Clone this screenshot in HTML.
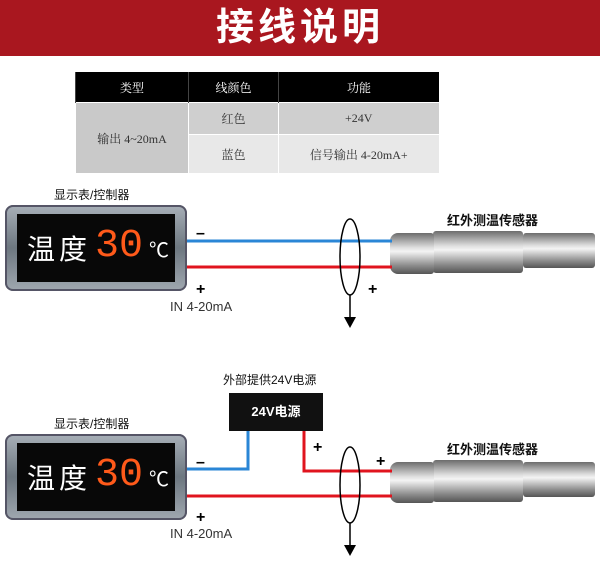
<!DOCTYPE html>
<html><head><meta charset="utf-8"><style>
body{margin:0;width:600px;height:563px;background:#fff;position:relative;overflow:hidden;font-family:"Liberation Sans","Noto Sans CJK SC",sans-serif}
.a{position:absolute}
.hdr{left:0;top:0;width:600px;height:56px;background:#a9171f;color:#fff;font-size:38px;font-weight:bold;text-align:center;line-height:56px;letter-spacing:4px}
table{position:absolute;left:75px;top:72px;border-collapse:collapse;font-size:12px;color:#333;font-family:"Liberation Serif","Noto Serif CJK SC",serif}
td{text-align:center;border:1px solid #fff}
th{background:#000;color:#fff;font-weight:normal;height:28px;border-left:1px solid #444}
.disp{width:182px;height:86px;border-radius:8px;background:linear-gradient(#a8b0b8,#6d7780 50%,#a0a8b0);box-shadow:inset 0 0 0 2px #556}
.inner{position:absolute;left:12px;top:9px;width:158px;height:68px;background:#080808}
.sens{background:linear-gradient(#6c6c6c,#ddd 35%,#f4f4f4 45%,#8a8a8a 80%,#555)}
.lbl{font-size:12px;color:#111}
</style></head><body>
<div class="a hdr">接线说明</div>
<table>
<tr><th style="width:110px">类型</th><th style="width:87px">线颜色</th><th style="width:158px">功能</th></tr>
<tr><td rowspan="2" style="background:#c9c9c9">输出 4~20mA</td><td style="background:#cfcfcf;height:29px">红色</td><td style="background:#cfcfcf">+24V</td></tr>
<tr><td style="background:#e8e8e8;height:36px">蓝色</td><td style="background:#e8e8e8">信号输出 4-20mA+</td></tr>
</table>

<!-- diagram 1 -->
<div class="a lbl" style="left:54px;top:186px">显示表/控制器</div>
<div class="a disp" style="left:5px;top:205px"><div class="inner">
<div class="a" style="left:10px;top:14px;color:#fff;font-size:28px;letter-spacing:4px">温度</div>
<div class="a" style="left:78px;top:10px;color:#ff5a1a;font-size:40px;font-family:'Liberation Mono',monospace">30</div>
<div class="a" style="left:132px;top:20px;color:#fff;font-size:20px">℃</div></div></div>
<div class="a lbl" style="left:447px;top:210px;font-weight:bold;font-size:13px">红外测温传感器</div>
<div class="a sens" style="left:433px;top:231px;width:90px;height:42px;border-radius:3px"></div>
<div class="a sens" style="left:523px;top:233px;width:72px;height:35px;border-radius:3px"></div>
<div class="a sens" style="left:390px;top:233px;width:44px;height:41px;border-radius:8px 3px 3px 8px"></div>

<!-- diagram 2 -->
<div class="a lbl" style="left:223px;top:371px">外部提供24V电源</div>
<div class="a" style="left:229px;top:393px;width:94px;height:38px;background:#111;color:#fff;font-weight:bold;font-size:13px;text-align:center;line-height:38px">24V电源</div>
<div class="a lbl" style="left:54px;top:415px">显示表/控制器</div>
<div class="a disp" style="left:5px;top:434px"><div class="inner">
<div class="a" style="left:10px;top:14px;color:#fff;font-size:28px;letter-spacing:4px">温度</div>
<div class="a" style="left:78px;top:10px;color:#ff5a1a;font-size:40px;font-family:'Liberation Mono',monospace">30</div>
<div class="a" style="left:132px;top:20px;color:#fff;font-size:20px">℃</div></div></div>
<div class="a lbl" style="left:447px;top:439px;font-weight:bold;font-size:13px">红外测温传感器</div>
<div class="a sens" style="left:433px;top:460px;width:90px;height:42px;border-radius:3px"></div>
<div class="a sens" style="left:523px;top:462px;width:72px;height:35px;border-radius:3px"></div>
<div class="a sens" style="left:390px;top:462px;width:44px;height:41px;border-radius:8px 3px 3px 8px"></div>

<svg class="a" style="left:0;top:0" width="600" height="563">
<g font-family="Liberation Sans,sans-serif" font-weight="bold" font-size="16" fill="#000">
<text x="196" y="238">–</text><text x="196" y="294">+</text><text x="368" y="294">+</text>
<text x="196" y="467">–</text><text x="196" y="522">+</text><text x="313" y="452">+</text><text x="376" y="466">+</text>
</g>
<g font-family="Liberation Sans,sans-serif" font-size="13" fill="#333"><text x="170" y="311">IN 4-20mA</text><text x="170" y="538">IN 4-20mA</text></g>
<g fill="none" stroke-width="3">
<line x1="187" y1="241" x2="392" y2="241" stroke="#2a86d6"/>
<line x1="187" y1="267" x2="392" y2="267" stroke="#e0141e"/>
<polyline points="187,469 248,469 248,431" stroke="#2a86d6"/>
<polyline points="304,431 304,471 392,471" stroke="#e0141e"/>
<line x1="187" y1="496" x2="392" y2="496" stroke="#e0141e"/>
</g>
<g fill="none" stroke="#000" stroke-width="1.5">
<ellipse cx="350" cy="257" rx="10" ry="38"/><line x1="350" y1="295" x2="350" y2="318"/>
<ellipse cx="350" cy="485" rx="10" ry="38"/><line x1="350" y1="523" x2="350" y2="546"/>
</g>
<polygon points="344,317 356,317 350,328" fill="#000"/>
<polygon points="344,545 356,545 350,556" fill="#000"/>
</svg>
</body></html>
